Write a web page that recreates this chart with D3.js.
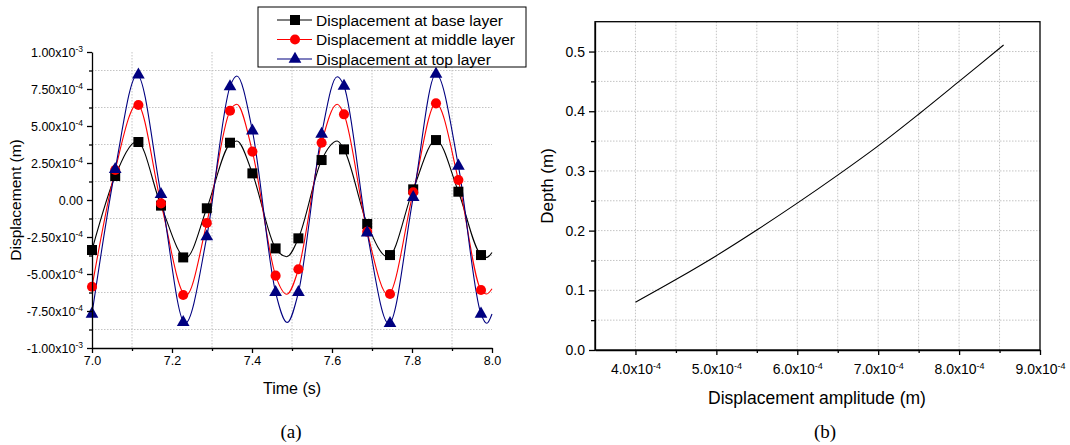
<!DOCTYPE html>
<html>
<head>
<meta charset="utf-8">
<script src="https://cdn.jsdelivr.net/npm/d3@7"></script>
<style>
  body { margin: 0; background: #fff; }
  text { font-family: "Liberation Sans", Arial, sans-serif; fill: #000; }
</style>
</head>
<body>
<svg id="chart" width="1070" height="445"></svg>
<script>
// ---- data (a): displacement in units of 1e-4 m ----
var markerTimes  = [7.000, 7.058, 7.116, 7.1725, 7.228, 7.287, 7.345, 7.401, 7.459, 7.516, 7.574, 7.630, 7.688, 7.745, 7.803, 7.860, 7.916, 7.9725];
var baseMarkers  = [-3.38, 1.62, 3.92, -0.38, -3.88, -0.56, 3.87, 1.80, -3.27, -2.59, 2.70, 3.42, -1.62, -3.72, 0.72, 4.05, 0.56, -3.72];
var middleMarkers = [-5.86, 2.03, 6.42, -0.23, -6.42, -1.55, 6.03, 3.27, -5.11, -4.68, 3.87, 5.79, -2.14, -6.35, 0.52, 6.53, 1.35, -6.08];
var topMarkers   = [-7.70, 2.07, 8.45, 0.38, -8.27, -2.48, 7.66, 4.68, -6.24, -6.24, 4.46, 7.70, -2.21, -8.33, 0.18, 8.51, 2.30, -7.70];

// curve points (time, displacement x1e-4), incl. peaks and troughs
var baseCurve = [[7.000,-3.38],[7.058,1.62],[7.113,3.95],[7.1725,-0.38],[7.235,-3.90],[7.287,-0.56],[7.345,3.80],[7.362,3.99],
  [7.401,1.80],[7.459,-3.27],[7.487,-3.83],[7.516,-2.59],[7.574,2.70],[7.613,3.99],[7.630,3.42],[7.688,-1.62],[7.740,-3.85],
  [7.803,0.72],[7.860,4.05],[7.916,0.56],[7.9725,-3.72],[7.987,-3.88],[8.000,-3.55]];
var middleCurve = [[7.000,-5.86],[7.058,2.03],[7.113,6.48],[7.1725,-0.23],[7.235,-6.45],[7.287,-1.55],[7.345,6.03],[7.362,6.47],
  [7.401,3.27],[7.459,-5.11],[7.487,-6.37],[7.516,-4.68],[7.574,3.87],[7.613,6.47],[7.630,5.79],[7.688,-2.14],[7.740,-6.40],
  [7.803,0.52],[7.860,6.53],[7.916,1.35],[7.9725,-6.08],[7.987,-6.35],[8.000,-6.00]];
var topCurve = [[7.000,-7.70],[7.058,2.07],[7.113,8.45],[7.1725,0.38],[7.233,-8.33],[7.287,-2.48],[7.345,7.66],[7.362,8.38],
  [7.401,4.68],[7.459,-6.24],[7.488,-8.27],[7.516,-6.24],[7.574,4.46],[7.613,8.33],[7.630,7.70],[7.688,-2.21],[7.742,-8.36],
  [7.803,0.18],[7.860,8.51],[7.916,2.30],[7.9725,-7.70],[7.987,-8.33],[8.000,-7.70]];

var seriesNames = ["Displacement at base layer", "Displacement at middle layer", "Displacement at top layer"];
var seriesColors = ["#000000", "#ff0000", "#000080"];

var timeTicks = [7.0, 7.2, 7.4, 7.6, 7.8, 8.0];
var timeMinor = [7.1, 7.3, 7.5, 7.7, 7.9];
var dispTicks = [-10, -7.5, -5, -2.5, 0, 2.5, 5, 7.5, 10];
var dispTickLabels = ["-1.00x10^-3", "-7.50x10^-4", "-5.00x10^-4", "-2.50x10^-4", "0.00",
                      "2.50x10^-4", "5.00x10^-4", "7.50x10^-4", "1.00x10^-3"];
var dispMinor = [-8.75, -6.25, -3.75, -1.25, 1.25, 3.75, 6.25, 8.75];

// ---- data (b): displacement amplitude (x1e-4 m) vs depth (m) ----
var ampValues   = [4.0, 4.5, 5.0, 5.5, 6.0, 6.5, 7.0, 7.5, 8.0, 8.55];
var depthValues = [0.080, 0.118, 0.158, 0.201, 0.246, 0.293, 0.342, 0.395, 0.450, 0.511];

var ampTicks = [4, 5, 6, 7, 8, 9];
var ampTickLabels = ["4.0x10^-4", "5.0x10^-4", "6.0x10^-4", "7.0x10^-4", "8.0x10^-4", "9.0x10^-4"];
var ampMinor = [4.5, 5.5, 6.5, 7.5, 8.5];
var depthTicks = [0, 0.1, 0.2, 0.3, 0.4, 0.5];
var depthMinor = [0.05, 0.15, 0.25, 0.35, 0.45];

var svg = d3.select("#chart");
svg.append("rect").attr("width", 1070).attr("height", 445).attr("fill", "#fff");

var gridColor = "#c4c4c4";

function supLabels(sel, labels, size) {
  sel.selectAll(".tick text").each(function(d, i) {
    var parts = labels[i].split("^");
    var t = d3.select(this).text(parts[0]);
    if (parts[1]) {
      t.append("tspan").attr("dy", "-0.5em").attr("font-size", size).text(parts[1]);
    }
  });
}

// ================= panel (a) =================
var xA = d3.scaleLinear().domain([7, 8]).range([92, 492]);
var yA = d3.scaleLinear().domain([-10, 10]).range([348, 52]);

var gA = svg.append("g");

// dotted grid on minor ticks
gA.selectAll("line.vg").data(timeMinor).enter().append("line")
  .attr("x1", d => xA(d)).attr("x2", d => xA(d))
  .attr("y1", yA(10)).attr("y2", yA(-10))
  .attr("stroke", gridColor).attr("stroke-dasharray", "1.5,1.5");
gA.selectAll("line.hg").data(dispMinor).enter().append("line")
  .attr("x1", xA(7)).attr("x2", xA(8))
  .attr("y1", d => yA(d)).attr("y2", d => yA(d))
  .attr("stroke", gridColor).attr("stroke-dasharray", "1.5,1.5");

var lineA = d3.line()
  .x(d => xA(d[0])).y(d => yA(d[1]))
  .curve(d3.curveMonotoneX);

var curves = [baseCurve, middleCurve, topCurve];
var markers = [baseMarkers, middleMarkers, topMarkers];
var symbols = [d3.symbol().type(d3.symbolSquare).size(100),
               d3.symbol().type(d3.symbolCircle).size(80),
               d3.symbol().type(d3.symbolTriangle).size(70)];

curves.forEach(function(c, k) {
  gA.append("path").datum(c)
    .attr("fill", "none").attr("stroke", seriesColors[k]).attr("stroke-width", 1.1)
    .attr("d", lineA);
});
markers.forEach(function(m, k) {
  gA.selectAll("path.m" + k).data(m).enter().append("path")
    .attr("class", "m" + k)
    .attr("transform", (d, i) => "translate(" + xA(markerTimes[i]) + "," + yA(d) + ")")
    .attr("d", symbols[k]())
    .attr("fill", seriesColors[k]);
});

// axes
var axLeftA = gA.append("g").attr("transform", "translate(92,0)")
  .call(d3.axisLeft(yA).tickValues(dispTicks).tickSize(5).tickSizeOuter(0).tickPadding(4));
supLabels(axLeftA, dispTickLabels, "8.5px");
gA.append("g").attr("transform", "translate(92,0)")
  .call(d3.axisLeft(yA).tickValues(dispMinor).tickSize(3).tickFormat(""))
  .select(".domain").remove();

var axBotA = gA.append("g").attr("transform", "translate(0,348)")
  .call(d3.axisBottom(xA).tickValues(timeTicks).tickSize(5).tickSizeOuter(0).tickPadding(3)
    .tickFormat(d3.format(".1f")));
gA.append("g").attr("transform", "translate(0,348)")
  .call(d3.axisBottom(xA).tickValues(timeMinor).tickSize(3).tickFormat(""))
  .select(".domain").remove();

[axLeftA, axBotA].forEach(function(a) {
  a.selectAll("text").attr("font-size", "12.5px").attr("font-family", "Liberation Sans, Arial, sans-serif");
});
gA.selectAll(".domain, .tick line").attr("stroke", "#000").attr("stroke-width", 1.3);

gA.append("text").attr("transform", "translate(21,200) rotate(-90)")
  .attr("text-anchor", "middle").attr("font-size", "15.5px").text("Displacement (m)");
gA.append("text").attr("x", 292).attr("y", 394)
  .attr("text-anchor", "middle").attr("font-size", "16px").text("Time (s)");
gA.append("text").attr("x", 291).attr("y", 438)
  .attr("text-anchor", "middle").attr("font-size", "19px")
  .style("font-family", "'Liberation Serif', 'Times New Roman', serif").text("(a)");

// legend
var leg = svg.append("g");
leg.append("rect").attr("x", 258).attr("y", 7).attr("width", 268).attr("height", 60)
  .attr("fill", "#fff").attr("stroke", "#000").attr("stroke-width", 1);
seriesNames.forEach(function(name, k) {
  var yy = 20 + k * 19.5;
  leg.append("line").attr("x1", 277).attr("x2", 312).attr("y1", yy).attr("y2", yy)
    .attr("stroke", seriesColors[k]).attr("stroke-width", 1.1);
  leg.append("path").attr("transform", "translate(295," + yy + ")")
    .attr("d", symbols[k]()).attr("fill", seriesColors[k]);
  leg.append("text").attr("x", 316).attr("y", yy + 5.5).attr("font-size", "15.5px").text(name);
});

// ================= panel (b) =================
var xB = d3.scaleLinear().domain([3.5, 9.0]).range([595, 1040]);
var yB = d3.scaleLinear().domain([0, 0.55]).range([350, 21.7]);

var gB = svg.append("g");

gB.selectAll("line.vg").data(ampTicks.concat(ampMinor).filter(d => d < 9)).enter().append("line")
  .attr("x1", d => xB(d)).attr("x2", d => xB(d))
  .attr("y1", yB(0.55)).attr("y2", yB(0))
  .attr("stroke", gridColor).attr("stroke-dasharray", "1.5,1.5");
gB.selectAll("line.hg").data(depthTicks.concat(depthMinor).filter(d => d > 0)).enter().append("line")
  .attr("x1", xB(3.5)).attr("x2", xB(9))
  .attr("y1", d => yB(d)).attr("y2", d => yB(d))
  .attr("stroke", gridColor).attr("stroke-dasharray", "1.5,1.5");

var lineB = d3.line()
  .x((d, i) => xB(ampValues[i])).y(d => yB(d))
  .curve(d3.curveCatmullRom.alpha(0.5));
gB.append("path").datum(depthValues)
  .attr("fill", "none").attr("stroke", "#000").attr("stroke-width", 1.1)
  .attr("d", lineB);

gB.append("rect").attr("x", xB(3.5)).attr("y", yB(0.55))
  .attr("width", xB(9) - xB(3.5)).attr("height", yB(0) - yB(0.55))
  .attr("fill", "none").attr("stroke", "#000").attr("stroke-width", 1.3);

var axLeftB = gB.append("g").attr("transform", "translate(595,0)")
  .call(d3.axisLeft(yB).tickValues(depthTicks).tickSize(6).tickSizeOuter(0).tickPadding(4)
    .tickFormat(d3.format(".1f")));
gB.append("g").attr("transform", "translate(595,0)")
  .call(d3.axisLeft(yB).tickValues(depthMinor).tickSize(4).tickFormat(""))
  .select(".domain").remove();

var axBotB = gB.append("g").attr("transform", "translate(0,350)")
  .call(d3.axisBottom(xB).tickValues(ampTicks).tickSize(5).tickSizeOuter(0).tickPadding(9));
supLabels(axBotB, ampTickLabels, "9px");
gB.append("g").attr("transform", "translate(0,350)")
  .call(d3.axisBottom(xB).tickValues(ampMinor).tickSize(3).tickFormat(""))
  .select(".domain").remove();

[axLeftB, axBotB].forEach(function(a) {
  a.selectAll("text").attr("font-size", "14px").attr("font-family", "Liberation Sans, Arial, sans-serif");
});
gB.selectAll(".domain, .tick line").attr("stroke", "#000").attr("stroke-width", 1.3);

gB.append("text").attr("transform", "translate(553,186) rotate(-90)")
  .attr("text-anchor", "middle").attr("font-size", "17px").text("Depth (m)");
gB.append("text").attr("x", 817).attr("y", 404)
  .attr("text-anchor", "middle").attr("font-size", "17.5px").text("Displacement amplitude (m)");
gB.append("text").attr("x", 825).attr("y", 438)
  .attr("text-anchor", "middle").attr("font-size", "19px")
  .style("font-family", "'Liberation Serif', 'Times New Roman', serif").text("(b)");
</script>
</body>
</html>
